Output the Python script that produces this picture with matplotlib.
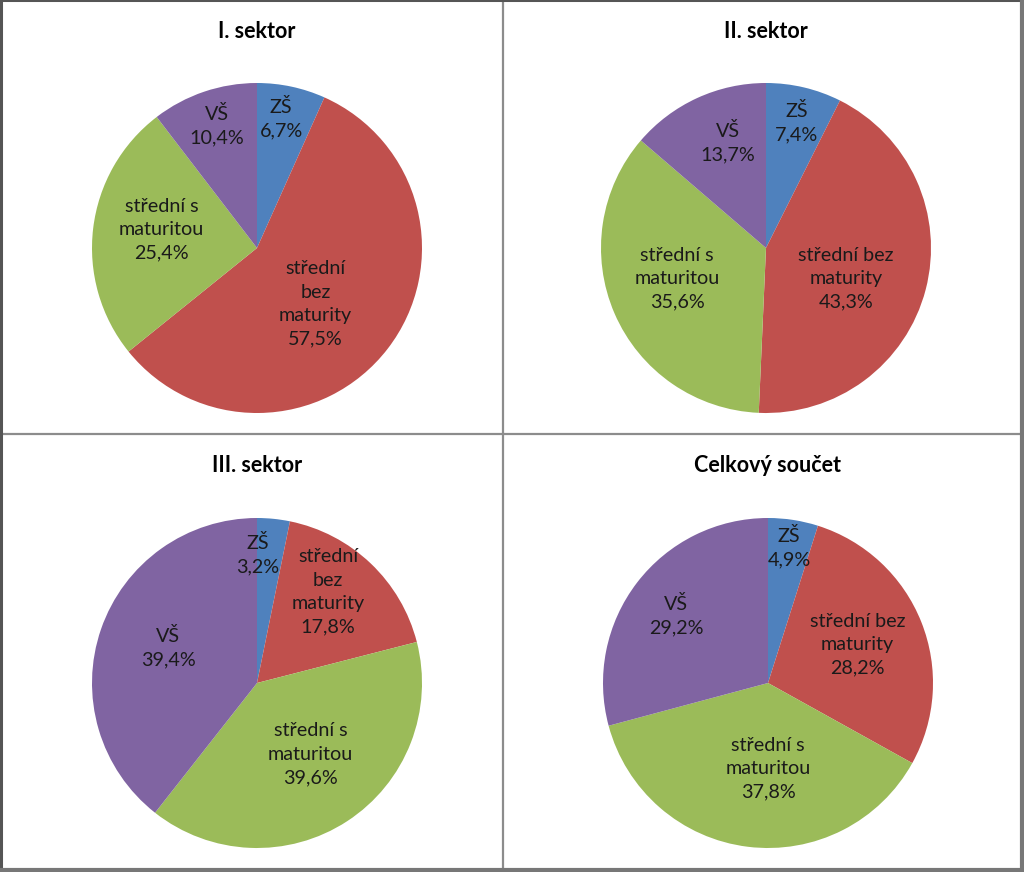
import matplotlib
matplotlib.use("Agg")
import matplotlib.pyplot as plt
from matplotlib.lines import Line2D
import numpy as np

plt.rcParams['font.family'] = ['Lato', 'DejaVu Sans']

# ---- data ----
titles = ["I. sektor", "II. sektor", "III. sektor", "Celkový součet"]
categories = ["ZŠ", "střední bez maturity", "střední s maturitou", "VŠ"]
sektor_1 = [6.7, 57.5, 25.4, 10.4]
sektor_2 = [7.4, 43.3, 35.6, 13.7]
sektor_3 = [3.2, 17.8, 39.6, 39.4]
celkem = [4.9, 28.2, 37.8, 29.2]
series = [sektor_1, sektor_2, sektor_3, celkem]

# label text per panel (line breaks as in the reference)
label_names = [
    ["ZŠ", "střední\nbez\nmaturity", "střední s\nmaturitou", "VŠ"],
    ["ZŠ", "střední bez\nmaturity", "střední s\nmaturitou", "VŠ"],
    ["ZŠ", "střední\nbez\nmaturity", "střední s\nmaturitou", "VŠ"],
    ["ZŠ", "střední bez\nmaturity", "střední s\nmaturitou", "VŠ"],
]

# ---- style ----
colors = ["#4F81BD", "#C0504D", "#9BBB59", "#8064A2"]
label_dist = [
    [0.80, 0.49, 0.59, 0.78],
    [0.78, 0.52, 0.57, 0.68],
    [0.78, 0.70, 0.54, 0.58],
    [0.83, 0.59, 0.52, 0.69],
]
label_angle_shift = [
    [1.5, -6.0, -4.0, -0.7],
    [-0.5, -6.4, -4.4, -4.7],
    [5.4, 5.6, 3.9, -2.5],
    [0.0, 1.4, 7.2, 1.4],
]

W, H = 1024, 872
fig = plt.figure(figsize=(W / 100, H / 100), dpi=100)
fig.patch.set_facecolor("white")

# pie centres / radii in pixels
centers = [(257, 248), (766, 248), (257, 683), (768, 683)]
radius_px = 165
title_y = [32, 32, 466, 466]

for i in range(4):
    cx, cy = centers[i]
    r = radius_px
    ax = fig.add_axes([(cx - r) / W, (H - cy - r) / H, 2 * r / W, 2 * r / H])
    ax.axis("off")
    wedges, _ = ax.pie(series[i], colors=colors, startangle=90, counterclock=False,
                       radius=1, wedgeprops=dict(linewidth=0), frame=False)
    ax.set_xlim(-1, 1)
    ax.set_ylim(-1, 1)
    for j, w in enumerate(wedges):
        ang = np.deg2rad((w.theta1 + w.theta2) / 2 + label_angle_shift[i][j])
        d = label_dist[i][j]
        txt = label_names[i][j] + "\n" + f"{series[i][j]:.1f}".replace(".", ",") + "%"
        ax.text(d * np.cos(ang), d * np.sin(ang), txt, ha="center", va="center",
                fontsize=14.2, color="#1a1a1a", linespacing=1.45)
    fig.text(cx / W, 1 - title_y[i] / H, titles[i], ha="center", va="center",
             fontsize=15.5, fontweight="bold", color="black")

# panel dividers
grey = "#8c8c8c"
fig.add_artist(Line2D([502.5 / W, 502.5 / W], [0, 1], color=grey, lw=1.6, transform=fig.transFigure))
fig.add_artist(Line2D([0, 1], [1 - 434.5 / H, 1 - 434.5 / H], color=grey, lw=1.6, transform=fig.transFigure))
# outer frame
fig.add_artist(Line2D([0.5 / W, 0.5 / W], [0, 1], color="#555555", lw=2.2, transform=fig.transFigure))
fig.add_artist(Line2D([0, 1], [1 - 0.5 / H, 1 - 0.5 / H], color="#555555", lw=2.2, transform=fig.transFigure))
fig.add_artist(Line2D([1 - 2.5 / W, 1 - 2.5 / W], [0, 1], color="#777777", lw=3, transform=fig.transFigure))
fig.add_artist(Line2D([0, 1], [2.5 / H, 2.5 / H], color="#777777", lw=3, transform=fig.transFigure))

fig.savefig("out.png", dpi=100)
